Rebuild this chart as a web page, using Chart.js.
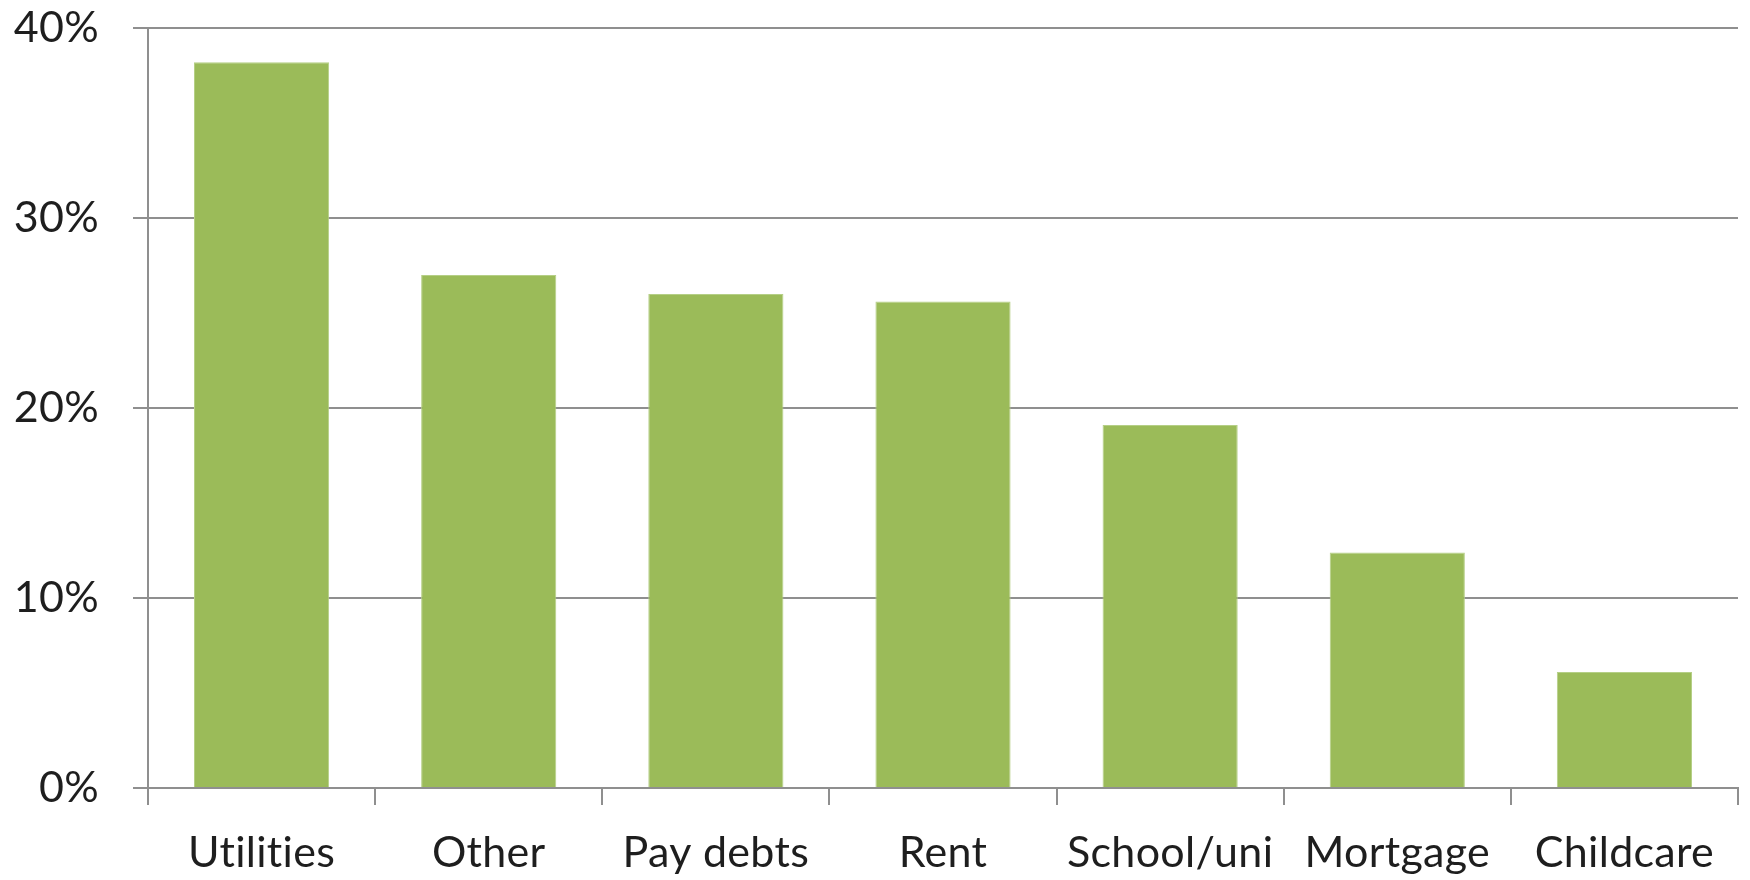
<!DOCTYPE html>
<html>
<head>
<meta charset="utf-8">
<script src="https://cdn.jsdelivr.net/npm/chart.js@4.4.1/dist/chart.umd.min.js"></script>
<style>
  html, body { margin: 0; padding: 0; background: #ffffff; }
  #wrap { width: 1750px; height: 880px; }
</style>
</head>
<body>
<div id="wrap"><canvas id="c" width="1750" height="880"></canvas></div>
<script>
const categories = ["Utilities", "Other", "Pay debts", "Rent", "School/uni", "Mortgage", "Childcare"];
const shares = [38.2, 27.0, 26.0, 25.6, 19.1, 12.4, 6.1];
const yTicks = [0, 10, 20, 30, 40];

const gridColor = "#8f8f8f";
const textColor = "#1e1e1e";
const fontFamily = "Lato, 'Noto Sans', sans-serif";

const noLigatures = {
  id: "noLigatures",
  beforeDraw(chart) {
    const ctx = chart.ctx;
    if ("letterSpacing" in ctx) ctx.letterSpacing = "0.3px";
  }
};

new Chart(document.getElementById("c"), {
  type: "bar",
  data: {
    labels: categories,
    datasets: [{
      data: shares,
      backgroundColor: "#9bbb59",
      borderColor: "#b5cf86",
      borderWidth: 1,
      barPercentage: 0.595,
      categoryPercentage: 1.0
    }]
  },
  plugins: [noLigatures],
  options: {
    responsive: false,
    animation: false,
    devicePixelRatio: 1,
    layout: { padding: { left: 0, right: 12, top: 28, bottom: 0 } },
    plugins: { legend: { display: false }, tooltip: { enabled: false } },
    scales: {
      x: {
        offset: true,
        grid: {
          offset: true,
          drawOnChartArea: false,
          drawTicks: true,
          tickLength: 17,
          color: gridColor,
          lineWidth: 2
        },
        border: { display: true, color: gridColor, width: 2 },
        ticks: {
          autoSkip: false,
          maxRotation: 0,
          minRotation: 0,
          color: textColor,
          padding: 22,
          font: { family: fontFamily, size: 43 }
        },
        afterFit: (s) => { s.height = 92; s.paddingLeft = 0; s.paddingRight = 0; }
      },
      y: {
        min: 0,
        max: 40,
        afterBuildTicks: (s) => { s.ticks = yTicks.map(v => ({ value: v })); },
        grid: {
          drawTicks: true,
          tickLength: 15,
          color: gridColor,
          lineWidth: 2
        },
        border: { display: true, color: gridColor, width: 2 },
        ticks: {
          color: textColor,
          padding: 34,
          font: { family: fontFamily, size: 43 },
          callback: (v) => v + "%"
        },
        afterFit: (s) => { s.width = 148; s.paddingTop = 0; s.paddingBottom = 0; }
      }
    }
  }
});
</script>
</body>
</html>
